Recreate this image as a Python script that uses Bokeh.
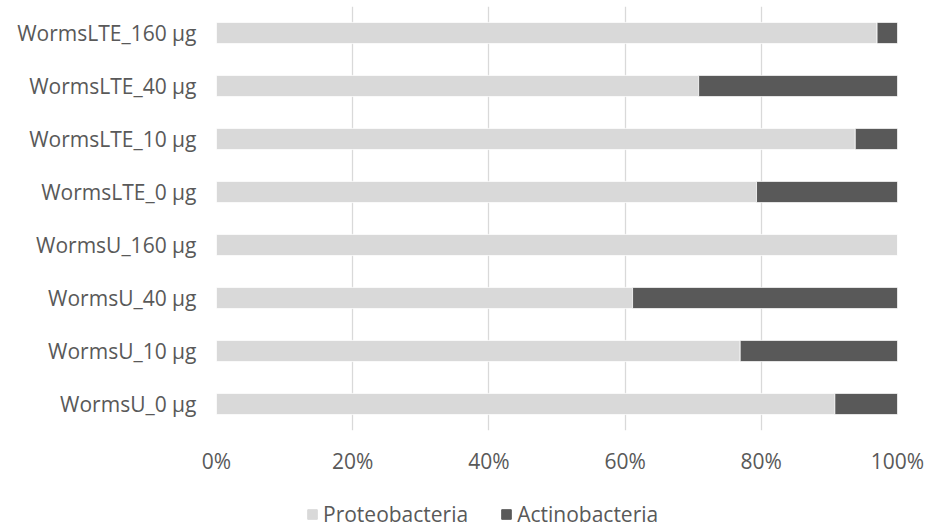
from bokeh.plotting import figure
from bokeh.layouts import column
from bokeh.models import (ColumnDataSource, FactorRange, Range1d, Legend, LegendItem,
                          FixedTicker, PrintfTickFormatter)
from bokeh.embed import file_html
from bokeh.resources import INLINE

# Samples listed from bottom to top of the chart
samples = ["WormsU_0 µg", "WormsU_10 µg", "WormsU_40 µg", "WormsU_160 µg",
           "WormsLTE_0 µg", "WormsLTE_10 µg", "WormsLTE_40 µg", "WormsLTE_160 µg"]
proteobacteria = [90.8, 76.9, 61.1, 100.0, 79.3, 93.8, 70.8, 97.0]
actinobacteria = [9.2, 23.1, 38.9, 0.0, 20.7, 6.2, 29.2, 3.0]
x_ticks = [0, 20, 40, 60, 80, 100]

series = ["Proteobacteria", "Actinobacteria"]
colors = ["#D9D9D9", "#595959"]
text_color = "#595959"
font = "Open Sans"
font_size = "21px"

source = ColumnDataSource(dict(sample=samples, Proteobacteria=proteobacteria,
                               Actinobacteria=actinobacteria))

# Main stacked-bar chart
p = figure(width=928, height=490, output_backend="svg", toolbar_location=None,
           y_range=FactorRange(factors=samples, range_padding=0),
           x_range=Range1d(0, 100),
           min_border_left=216, min_border_right=31, min_border_top=6,
           min_border_bottom=60)

p.hbar_stack(series, y="sample", height=0.4, color=colors,
             line_color="white", line_width=0.75, source=source)

p.outline_line_color = None
p.background_fill_color = "white"
p.border_fill_color = "white"

p.ygrid.grid_line_color = None
p.xgrid.grid_line_color = "#D9D9D9"
p.xgrid.grid_line_width = 1.3
p.xgrid.ticker = FixedTicker(ticks=x_ticks)

p.xaxis.ticker = FixedTicker(ticks=x_ticks)
p.xaxis.formatter = PrintfTickFormatter(format="%d%%")
for ax in (p.xaxis[0], p.yaxis[0]):
    ax.axis_line_color = None
    ax.major_tick_line_color = None
    ax.minor_tick_line_color = None
    ax.major_label_text_color = text_color
    ax.major_label_text_font = font
    ax.major_label_text_font_size = font_size
p.xaxis.major_label_standoff = 10
p.yaxis.major_label_standoff = 14

# Strip underneath that carries the horizontal legend
leg_fig = figure(width=928, height=39, output_backend="svg", toolbar_location=None,
                 x_range=Range1d(0, 1), y_range=Range1d(0, 1),
                 min_border=0, min_border_left=0, min_border_right=0,
                 min_border_top=0, min_border_bottom=0)
leg_fig.axis.visible = False
leg_fig.grid.visible = False
leg_fig.outline_line_color = None
leg_fig.border_fill_color = "white"

# Swatch renderers kept outside the visible range; only their legend glyphs show
offscreen = ColumnDataSource(dict(x=[5], y=[5]))
swatches = [leg_fig.rect(x="x", y="y", width=0.1, height=0.1, color=c, source=offscreen)
            for c in colors]

legend = Legend(items=[LegendItem(label=s, renderers=[r]) for s, r in zip(series, swatches)],
                orientation="horizontal", location=(90, 1),
                glyph_width=12, glyph_height=12, label_standoff=5, spacing=32,
                label_text_font=font, label_text_font_size=font_size,
                label_text_color=text_color, border_line_color=None,
                background_fill_alpha=0, margin=0, padding=0)
leg_fig.add_layout(legend, "center")

layout = column(p, leg_fig, spacing=0)
open("out.html", "w").write(file_html(layout, INLINE))
